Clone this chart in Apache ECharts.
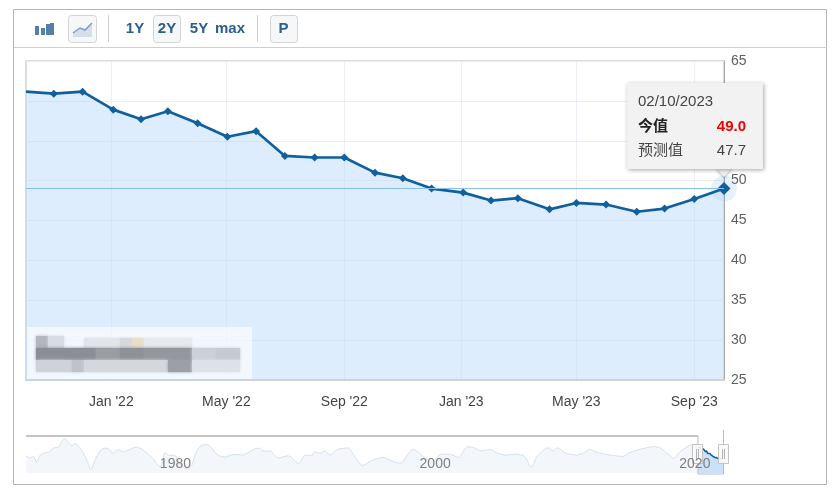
<!DOCTYPE html>
<html><head><meta charset="utf-8">
<style>html,body{margin:0;padding:0;background:#fff}#c{width:834px;height:494px}</style>
<script src="https://cdn.jsdelivr.net/npm/echarts@6/dist/echarts.min.js"></script>
</head><body><div id="c"></div>
<script>
const dates=['2021-10-04','2021-11-02','2021-12-02','2022-01-03','2022-02-01','2022-03-01','2022-04-01','2022-05-02','2022-06-01','2022-07-01','2022-08-01','2022-09-01','2022-10-03','2022-11-01','2022-12-01','2023-01-03','2023-02-01','2023-03-01','2023-04-03','2023-05-01','2023-06-01','2023-07-03','2023-08-01','2023-09-01','2023-10-02'];
const values=[61.15,60.9,61.15,58.9,57.7,58.7,57.2,55.5,56.2,53.1,52.9,52.9,51.0,50.3,49.0,48.5,47.5,47.8,46.4,47.2,47.0,46.1,46.5,47.7,49.0];
const tickDates=['2022-01-01','2022-05-01','2022-09-01','2023-01-01','2023-05-01','2023-09-01'];
const tickLabels=["Jan '22","May '22","Sep '22","Jan '23","May '23","Sep '23"];
const navYears=[1970.0,1970.3,1970.6,1970.8,1971.1,1971.5,1971.8,1972.1,1972.5,1972.7,1973.0,1973.3,1973.5,1973.8,1974.1,1974.4,1974.7,1975.0,1975.3,1975.7,1976.1,1976.4,1976.7,1977.1,1977.5,1977.9,1978.5,1979.0,1979.7,1980.2,1980.4,1980.7,1980.95,1981.5,1981.85,1982.4,1982.75,1983.1,1983.5,1984.0,1984.4,1984.8,1985.3,1985.95,1986.7,1987.2,1987.6,1988.0,1988.26,1988.8,1989.4,1990.2,1990.7,1991.0,1991.5,1992.0,1992.2,1992.7,1993.0,1993.4,1994.0,1994.8,1995.3,1995.95,1996.6,1997.5,1998.1,1998.8,1999.8,2000.7,2001.2,2002.0,2002.6,2003.3,2004.0,2004.5,2005.05,2005.7,2006.2,2007.0,2007.7,2008.4,2008.9,2009.4,2010.2,2010.6,2010.95,2011.46,2012.4,2013.0,2013.4,2014.0,2015.05,2015.95,2016.46,2017.5,2018.25,2018.8,2019.3,2019.9,2020.3,2020.8,2021.3,2021.75];
const navValues=[49.9,47.4,49.1,41.5,50.8,54.2,55.0,60.1,61.0,67.8,72.0,66.9,62.7,66.1,61.0,54.2,43.6,31.7,43.6,56.3,60.1,58.4,53.3,57.6,55.5,57.6,61.4,57.6,47.8,37.2,36.4,54.2,50.8,50.0,39.3,33.0,37.2,54.2,63.5,64.4,57.6,50.8,48.3,51.6,51.2,55.0,59.2,59.7,56.3,56.3,47.0,50.0,43.6,39.8,50.8,50.0,55.0,53.3,56.3,50.8,58.4,60.1,49.1,37.2,43.6,47.8,43.6,40.2,58.4,47.8,41.5,52.1,52.1,47.8,61.8,60.5,56.3,58.4,54.2,50.8,52.1,49.1,35.1,50.0,60.5,56.3,60.5,54.2,50.8,54.2,58.4,54.2,50.8,49.1,54.2,59.3,61.8,60.5,54.2,46.6,54.2,60.5,64.8,61.1];
const navTicks=[1980,2000,2020];
const rangeButtons=['1Y','2Y','5Y','max'];
const tipDate='02/10/2023', tipRow1=['今值','49.0'], tipRow2=['预测值','47.7'];

const FONT='"Liberation Sans","Noto Sans CJK SC",sans-serif';
const ms=d=>Date.parse(d+'T00:00:00Z');
const toYear=d=>{const t=ms(d);const y=new Date(t).getUTCFullYear();return y+(t-Date.UTC(y,0,1))/(Date.UTC(y+1,0,1)-Date.UTC(y,0,1));};
const last=dates.length-1;
const tickMs=tickDates.map(ms);
const mainData=dates.map((d,i)=>{
 const item={value:[ms(d),values[i]]};
 if(i===last) item.symbolSize=13;
 if(i===0) item.symbolSize=0;
 return item;
});

const btn=(x,w)=>({type:'rect',shape:{x:x+.5,y:15.5,width:w,height:27,r:3},style:{fill:'#f6f7f8',stroke:'#d4d4d4',lineWidth:1},z:1});
const line=(x1,y1,x2,y2,c,w)=>({type:'line',shape:{x1,y1,x2,y2},style:{stroke:c,lineWidth:w||1},z:1});
const txt=(x,y,t,o)=>({type:'text',x,y,z:31,style:Object.assign({text:t,font:'15px '+FONT,fill:'#444',verticalAlign:'middle'},o||{})});
const blocks=[[36,336,12,12,'#b3b7bd'],[48,336,16,12,'#d8dde3'],[84,338,36,10,'#e2e6ea'],[120,338,12,10,'#d7d9db'],[132,338,12,10,'#e8dfc8'],[144,338,48,10,'#e6e9ed'],
[36,348,60,12,'#8b8e94'],[96,348,24,12,'#9a9da3'],[120,348,24,12,'#8e9197'],[144,348,48,12,'#94979d'],[192,348,24,12,'#ccd1d7'],[216,348,24,12,'#c6cbd2'],
[36,360,36,12,'#cfd3d9'],[72,360,12,12,'#bfc3c9'],[84,360,84,12,'#d4d8dd'],[168,360,24,12,'#9c9fa5'],[192,360,48,12,'#dde2e8']];
const iconBars=[[35,26,4,9],[41,28,4,7],[46,24,4,11],[50,23,4,12]];

const graphic=[
 {type:'rect',shape:{x:13.5,y:9.5,width:813,height:475},style:{fill:'none',stroke:'#b5b5b5',lineWidth:1},z:1},
 line(14,47.5,827,47.5,'#cfcfcf'),
 ...iconBars.map(b=>({type:'rect',shape:{x:b[0],y:b[1],width:b[2],height:b[3]},style:{fill:'#5580ab'},z:1})),
 btn(68,28),btn(153,27),btn(270,27),
 {type:'polygon',shape:{points:[[73,37],[73,33],[80,28],[85,30],[92,23],[92,37]]},style:{fill:'#d6deea'},z:2},
 {type:'polyline',shape:{points:[[73,33],[80,28],[85,30],[92,23]]},style:{stroke:'#7f9cbc',fill:'none',lineWidth:1.5},z:2},
 line(108.5,15,108.5,42,'#cfcfcf'),line(257.5,15,257.5,42,'#cfcfcf'),
 ...rangeButtons.map((t,i)=>txt([135,167,199,230][i],29,t,{font:'bold 15px '+FONT,fill:'#2b5f8f',align:'center'})),
 txt(283.5,29,'P',{font:'bold 15px '+FONT,fill:'#2b5f8f',align:'center'}),
 {type:'rect',shape:{x:27,y:327,width:225,height:52},style:{fill:'rgba(255,255,255,0.6)'},z:20},
 ...blocks.map(b=>({type:'rect',shape:{x:b[0],y:b[1],width:b[2],height:b[3]},style:{fill:b[4],shadowBlur:3,shadowColor:b[4]},z:21})),
 line(26,436,698,436,'#c4c4c4',2),
 {type:'line',shape:{x1:698,y1:436,x2:698,y2:474},style:{stroke:'#bcbcbc'},z:4},
 {type:'line',shape:{x1:698,y1:474,x2:723.5,y2:474},style:{stroke:'#bcbcbc'},z:4},
 {type:'line',shape:{x1:723.5,y1:430,x2:723.5,y2:474},style:{stroke:'#bcbcbc'},z:4},
 ...[692.5,718.5].flatMap(x=>[
  {type:'rect',shape:{x,y:444.5,width:10,height:19},style:{fill:'rgba(248,248,248,.9)',stroke:'#c4c4c4'},z:5},
  {type:'line',shape:{x1:x+4,y1:449,x2:x+4,y2:459},style:{stroke:'#b5b5b5'},z:6},
  {type:'line',shape:{x1:x+6,y1:449,x2:x+6,y2:459},style:{stroke:'#b5b5b5'},z:6}]),
 {type:'polygon',shape:{points:[[716,168],[732,168],[724,177]]},style:{fill:'#f2f2f2',shadowBlur:3,shadowColor:'rgba(0,0,0,.3)',shadowOffsetY:1},z:29},
 {type:'rect',shape:{x:627,y:83,width:136,height:86},style:{fill:'#f2f2f2',shadowBlur:4,shadowColor:'rgba(0,0,0,.35)',shadowOffsetX:1,shadowOffsetY:1},z:30},
 txt(638,102,tipDate),
 txt(638,127,tipRow1[0],{font:'bold 15px '+FONT,fill:'#222'}),
 txt(746,127,tipRow1[1],{font:'bold 15px '+FONT,fill:'#f00000',align:'right'}),
 txt(638,151,tipRow2[0]),
 txt(746,151,tipRow2[1],{align:'right'})
];

const chart=echarts.init(document.getElementById('c'),null,{renderer:'canvas'});
chart.setOption({
 animation:false,backgroundColor:'#fff',textStyle:{fontFamily:FONT},
 graphic,
 grid:[
  {left:26,right:110,top:61,bottom:114,show:true,borderColor:'#dcdcdc',borderWidth:2,backgroundColor:'#fff'},
  {left:26,right:110,top:437,bottom:21}
 ],
 xAxis:[
  {type:'value',gridIndex:0,min:ms('2021-10-04'),max:ms('2023-10-02'),
   axisLine:{show:true,onZero:false,lineStyle:{color:'#ccd3dc',width:2}},
   axisTick:{show:false,customValues:tickMs},
   splitLine:{show:true,lineStyle:{color:'#ecf0f4',width:1}},
   axisLabel:{customValues:tickMs,margin:15,fontSize:14,color:'#444',fontFamily:FONT,hideOverlap:false,
    formatter:v=>tickLabels[tickMs.indexOf(v)]}},
  {type:'value',gridIndex:1,min:1970,max:2023.75,z:10,
   axisLine:{show:false},axisTick:{show:false},splitLine:{show:false},
   axisLabel:{customValues:navTicks,inside:true,margin:2,fontSize:14,color:'#7f7f7f',align:'left',padding:[0,0,0,4],fontFamily:FONT,formatter:v=>String(v)}}
 ],
 yAxis:[
  {type:'value',gridIndex:0,position:'right',min:25,max:65,interval:5,
   axisLine:{show:true,lineStyle:{color:'#a9a9a9',width:1}},axisTick:{show:false},
   splitLine:{show:true,lineStyle:{color:'#ececec',width:1}},
   axisLabel:{margin:7,fontSize:14,color:'#5f5f5f',fontFamily:FONT}},
  {type:'value',gridIndex:1,min:27.5,max:74.5,show:false,splitLine:{show:false}}
 ],
 series:[
  {type:'line',xAxisIndex:0,yAxisIndex:0,data:mainData,clip:true,symbol:'diamond',symbolSize:8,showSymbol:true,showAllSymbol:true,z:3,
   lineStyle:{color:'#105f9f',width:2.7},itemStyle:{color:'#105f9f'},
   areaStyle:{color:'rgba(185,218,250,0.68)'},
   markLine:{silent:true,symbol:'none',label:{show:false},lineStyle:{color:'#86c0ee',width:1,type:'solid'},data:[{yAxis:values[last]}]},
   markPoint:{silent:true,symbol:'circle',symbolSize:26,itemStyle:{color:'rgba(120,180,240,0.18)'},label:{show:false},z:2,data:[{coord:[ms(dates[last]),values[last]]}]}},
  {type:'line',xAxisIndex:1,yAxisIndex:1,data:navYears.map((y,i)=>[y,navValues[i]]),symbol:'none',smooth:0.25,z:2,
   lineStyle:{color:'#d3e1ec',width:1},areaStyle:{color:'#f3f7fc',opacity:1}},
  {type:'line',xAxisIndex:1,yAxisIndex:1,data:dates.map((d,i)=>[toYear(d),values[i]]),symbol:'none',smooth:0.25,z:3,
   lineStyle:{color:'#105f9f',width:1.5},areaStyle:{color:'#c9e1f9',opacity:1}}
 ]
});
</script></body></html>
